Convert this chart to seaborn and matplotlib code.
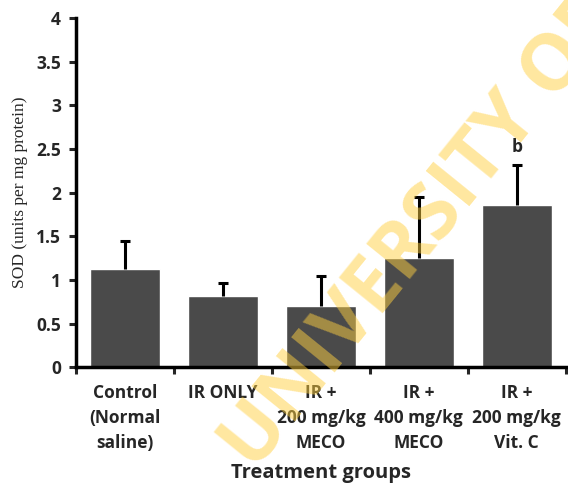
import numpy as np
import pandas as pd
import matplotlib
matplotlib.use('Agg')
import matplotlib.pyplot as plt
import seaborn as sns

# datos
groups = ['Control\n(Normal\nsaline)', 'IR ONLY', 'IR +\n200 mg/kg\nMECO',
          'IR +\n400 mg/kg\nMECO', 'IR +\n200 mg/kg\nVit. C']
sod_mean = [1.13, 0.81, 0.70, 1.25, 1.86]
sod_err = [0.32, 0.15, 0.34, 0.70, 0.46]
sig_labels = ['', '', '', '', 'b']
y_ticks = [0, 0.5, 1, 1.5, 2, 2.5, 3, 3.5, 4]
y_tick_labels = ['0', '0.5', '1', '1.5', '2', '2.5', '3', '3.5', '4']

df = pd.DataFrame({'group': groups, 'sod': sod_mean})

sns.set_style('white')
plt.rcParams['font.family'] = ['Open Sans', 'DejaVu Sans']

fig = plt.figure(figsize=(5.68, 4.87), dpi=100)
ax = fig.add_axes([0.134, 0.246, 0.862, 0.717])

sns.barplot(data=df, x='group', y='sod', order=groups, color='#4a4a4a',
            saturation=1, width=0.72, ax=ax, errorbar=None)

# barras de error solo hacia arriba
x = np.arange(len(groups))
eb = ax.errorbar(x, sod_mean, yerr=[np.zeros(len(groups)), sod_err], fmt='none',
                 ecolor='black', elinewidth=2.2, capsize=3.5, capthick=2.2, zorder=3)
eb[1][0].set_visible(False)

for xi, m, e, lab in zip(x, sod_mean, sod_err, sig_labels):
    if lab:
        ax.text(xi, m + e + 0.1, lab, ha='center', va='bottom',
                fontsize=12.5, fontweight='bold')

ax.set_xlim(-0.5, len(groups) - 0.5)
ax.set_ylim(0, 4)
ax.set_yticks(y_ticks)
ax.set_yticklabels(y_tick_labels, fontsize=12.5, fontweight='bold')
ax.set_xticks(x)
ax.set_xticklabels(groups, fontsize=12.5, fontweight='bold', linespacing=1.5)
ax.set_xticks(np.arange(-0.5, len(groups)), minor=True)
ax.tick_params(axis='x', which='major', length=0, pad=12)
ax.tick_params(axis='x', which='minor', length=5, width=2.2, direction='out', bottom=True)
ax.tick_params(axis='y', length=5, width=2.2, direction='out', left=True, pad=6)

for s in ['top', 'right']:
    ax.spines[s].set_visible(False)
for s in ['left', 'bottom']:
    ax.spines[s].set_linewidth(2.5)
    ax.spines[s].set_color('black')

ax.set_xlabel('Treatment groups', fontsize=14.5, fontweight='bold', labelpad=8)
ax.set_ylabel('SOD (units per mg protein)', fontsize=12.5,
              family=['Liberation Serif', 'DejaVu Serif'], labelpad=6)

# marca de agua
fig.text(0.74, 0.52, 'UNIVERSITY OF', rotation=51, ha='center', va='center',
         fontsize=56, fontweight='bold', color='#FFCF40', alpha=0.5, zorder=5)

plt.savefig('out.png', dpi=100)
plt.close()
